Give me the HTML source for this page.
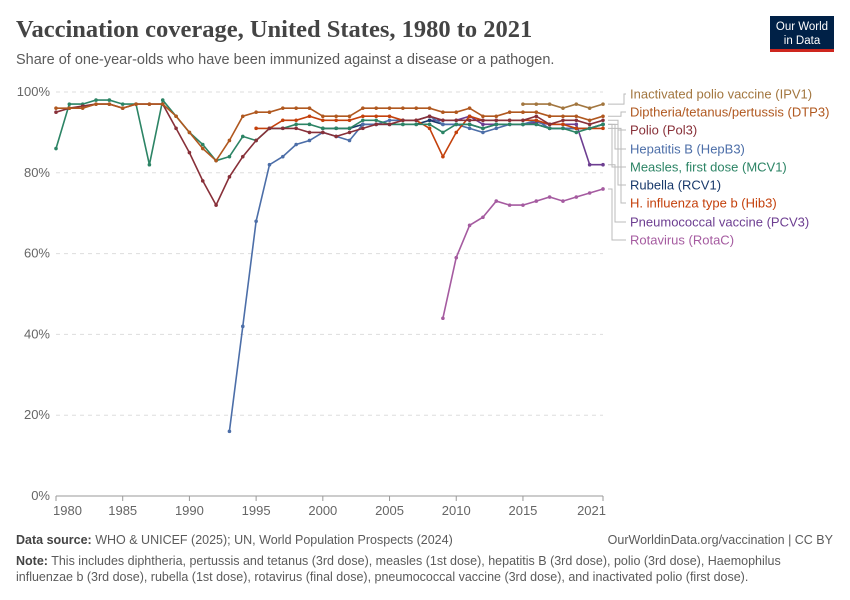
<!DOCTYPE html>
<html><head><meta charset="utf-8">
<style>
body{margin:0;background:#fff;font-family:"Liberation Sans",sans-serif;}
#wrap{position:relative;width:850px;height:600px;overflow:hidden;}
.t{position:absolute;white-space:nowrap;}
</style></head>
<body>
<div id="wrap">
<div class="t" style="left:16px;top:16px;font-family:'Liberation Serif',serif;font-size:24.5px;font-weight:bold;color:#444;">Vaccination coverage, United States, 1980 to 2021</div>
<div class="t" style="left:16px;top:52px;font-size:14.5px;color:#5b5b5b;">Share of one-year-olds who have been immunized against a disease or a pathogen.</div>
<div style="position:absolute;left:770px;top:16px;width:64px;height:36px;background:#002147;color:#fff;font-size:11.5px;line-height:14px;text-align:center;padding-top:4px;box-sizing:border-box;border-bottom:3px solid #ce261e;">Our World<br>in Data</div>
<svg id="chart" width="850" height="600" style="position:absolute;left:0;top:0"></svg>
<div class="t" style="left:16px;top:533px;font-size:12.5px;color:#5b5b5b;"><b style="color:#444">Data source:</b> WHO &amp; UNICEF (2025); UN, World Population Prospects (2024)</div>
<div class="t" style="right:17px;top:533px;font-size:12.5px;color:#5b5b5b;">OurWorldinData.org/vaccination | CC BY</div>
<div class="t" style="left:16px;top:553px;font-size:12.5px;line-height:16px;color:#5b5b5b;white-space:normal;width:800px;"><b style="color:#444">Note:</b> This includes diphtheria, pertussis and tetanus (3rd dose), measles (1st dose), hepatitis B (3rd dose), polio (3rd dose), Haemophilus influenzae b (3rd dose), rubella (1st dose), rotavirus (final dose), pneumococcal vaccine (3rd dose), and inactivated polio (first dose).</div>
</div>
<script>
const years=[];for(let y=1980;y<=2021;y++)years.push(y);
const xTicks=[1980,1985,1990,1995,2000,2005,2010,2015,2021];
const yTicks=[0,20,40,60,80,100];
const dtp3=[96,96,96,97,97,96,97,97,97,94,90,86,83,88,94,95,95,96,96,96,94,94,94,96,96,96,96,96,96,95,95,96,94,94,95,95,95,94,94,94,93,94];
const pol3=[95,96,96.5,97,97,96,97,97,97,91,85,78,72,79,84,88,91,91,91,90,90,89,90,91,92,92,93,93,94,93,93,93,93,93,93,93,94,92,93,93,92,93];
const mcv1=[86,97,97,98,98,97,97,82,98,94,90,87,83,84,89,88,91,91,92,92,91,91,91,93,93,92,92,92,92,90,92,92,91,92,92,92,92,91,91,90,91,92];
const hib3=[null,null,null,null,null,null,null,null,null,null,null,null,null,null,null,91,91,93,93,94,93,93,93,94,94,94,93,93,91,84,90,94,93,93,93,93,93,92,92,91,91,91];
const hepb3=[null,null,null,null,null,null,null,null,null,null,null,null,null,16,42,68,82,84,87,88,90,89,88,92,92,93,93,93,94,92,92,91,90,91,92,92,93,91,91,91,91,92];
const rcv1=[null,null,null,null,null,null,null,null,null,null,null,null,null,null,null,null,null,null,null,null,91,91,91,92,92,92,92,92,93,92,92,92,91,92,92,92,92,91,91,91,91,92];
const pcv3=[null,null,null,null,null,null,null,null,null,null,null,null,null,null,null,null,null,null,null,null,null,null,null,null,null,null,null,null,93,93,93,94,92,92,92,92,92.5,92,92,92,82,82];
const rotac=[null,null,null,null,null,null,null,null,null,null,null,null,null,null,null,null,null,null,null,null,null,null,null,null,null,null,null,null,null,44,59,67,69,73,72,72,73,74,73,74,75,76];
const ipv1=[null,null,null,null,null,null,null,null,null,null,null,null,null,null,null,null,null,null,null,null,null,null,null,null,null,null,null,null,null,null,null,null,null,null,null,97,97,97,96,97,96,97];
const seriesNames=["Inactivated polio vaccine (IPV1)","Diptheria/tetanus/pertussis (DTP3)","Polio (Pol3)","Hepatitis B (HepB3)","Measles, first dose (MCV1)","Rubella (RCV1)","H. influenza type b (Hib3)","Pneumococcal vaccine (PCV3)","Rotavirus (RotaC)"];
const seriesData=[ipv1,dtp3,pol3,hepb3,mcv1,rcv1,hib3,pcv3,rotac];
const colors=["#a2763f","#b0581f","#883039","#4c6ea8","#2c8465","#18396b","#c4410c","#6d3e91","#a55ba0"];
const drawOrder=[8,7,5,3,6,4,2,1,0];
const svg=document.getElementById('chart');const NS='http://www.w3.org/2000/svg';
const X=y=>56+(y-1980)*(603-56)/41;
const Y=v=>496-v*4.04;
function el(t,a){const e=document.createElementNS(NS,t);for(const k in a)e.setAttribute(k,a[k]);svg.appendChild(e);return e;}
yTicks.forEach(v=>{
 if(v>0){const g=el('line',{x1:56,x2:603,y1:Y(v),y2:Y(v),stroke:'#ddd','stroke-dasharray':'4,4'});}
 const t=el('text',{x:50,y:Y(v)+4,'text-anchor':'end','font-size':13,fill:'#666','font-family':'Liberation Sans'});t.textContent=v+'%';
 
});
const ax=el('line',{x1:56,x2:603,y1:496,y2:496,stroke:'#999'});

xTicks.forEach((yr,i)=>{
 el('line',{x1:X(yr),x2:X(yr),y1:496,y2:501,stroke:'#999'});
 let anchor='middle',xx=X(yr);if(i==0){anchor='start';xx=X(yr)-3;}if(i==xTicks.length-1){anchor='end';xx=X(yr)+3;}
 const t=el('text',{x:xx,y:515,'text-anchor':anchor,'font-size':13,fill:'#666','font-family':'Liberation Sans'});t.textContent=yr;
 
});
drawOrder.forEach(si=>{
 const d=seriesData[si];let p='';let pen=false;
 d.forEach((v,i)=>{if(v==null){pen=false;return;}p+=(pen?'L':'M')+X(years[i]).toFixed(1)+','+Y(v).toFixed(1);pen=true;});
 const path=el('path',{d:p,fill:'none',stroke:colors[si],'stroke-width':1.6});
 
 d.forEach((v,i)=>{if(v==null)return;const c=el('circle',{cx:X(years[i]),cy:Y(v),r:1.8,fill:colors[si]});
  });
});
const labelY=[94,112,130,149,167,185,203,222,240];
const elbowX=[624,621,618,615,612,618,621,624,627];
seriesNames.forEach((n,si)=>{
 const d=seriesData[si];const ey=Y(d[d.length-1]);const ly=labelY[si];const ex=(si==7||si==8)?(si==7?615:612):elbowX[si];
 const c=el('path',{d:`M608,${ey}H${ex}V${ly}H626`,fill:'none',stroke:'#bbb','stroke-width':1});
 
 const t=el('text',{x:630,y:ly+4.5,'font-size':13,fill:colors[si],'font-family':'Liberation Sans'});t.textContent=n;
 
});
</script>
</body></html>
